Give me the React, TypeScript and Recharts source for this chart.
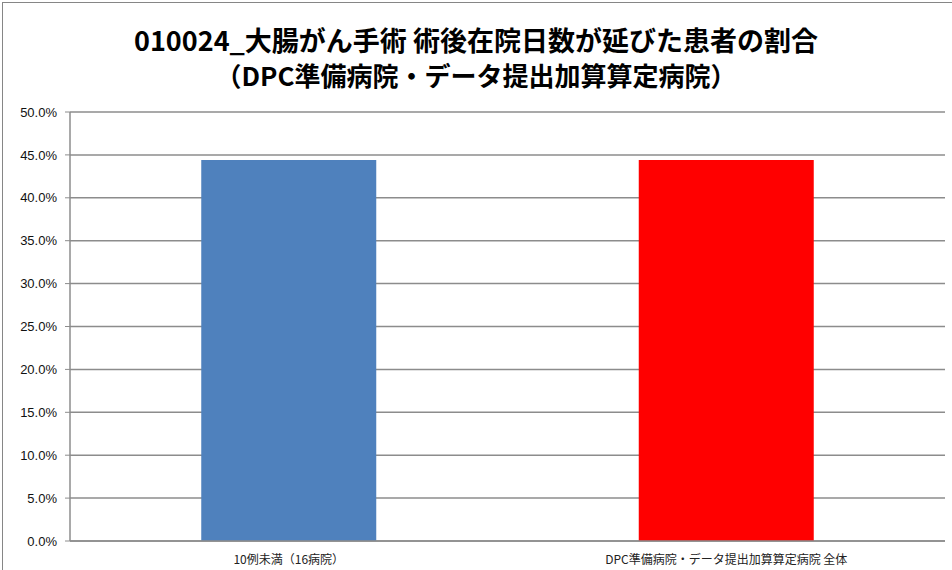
import { BarChart, Bar, XAxis, YAxis, CartesianGrid, Cell } from 'recharts'

const TITLE_LINE_1 = '010024_大腸がん手術 術後在院日数が延びた患者の割合'
const TITLE_LINE_2 = '（DPC準備病院・データ提出加算算定病院）'

const categories = ['10例未満（16病院）', 'DPC準備病院・データ提出加算算定病院 全体']
const ratios = [0.444, 0.444]
const barColors = ['#4F81BD', '#FF0000']
const yTicks = [0, 0.05, 0.1, 0.15, 0.2, 0.25, 0.3, 0.35, 0.4, 0.45, 0.5]
const edgeTicks = [0, 1, 2]

const GRID = '#8C8C8C'
const JP_FONT = '"Noto Sans CJK JP", "Noto Sans", sans-serif'

const data = categories.map((name, i) => ({ name, value: ratios[i] }))

export default function App() {
  return (
    <div
      style={{
        position: 'absolute',
        left: 0,
        top: 0,
        width: 952,
        height: 570,
        background: '#fff',
        overflow: 'hidden',
      }}
    >
      {/* frame of the chart area, only left/top edges are visible in the crop */}
      <div
        style={{
          position: 'absolute',
          left: 2,
          top: 2,
          width: 960,
          height: 580,
          borderLeft: '1px solid #868686',
          borderTop: '1px solid #868686',
        }}
      />
      <div
        style={{
          position: 'absolute',
          left: 0,
          top: 22,
          width: 952,
          textAlign: 'center',
          fontFamily: JP_FONT,
          fontWeight: 700,
          lineHeight: '35px',
          color: '#000',
        }}
      >
        <div style={{ fontSize: 27 }}>{TITLE_LINE_1}</div>
        <div style={{ fontSize: 26 }}>{TITLE_LINE_2}</div>
      </div>
      <div style={{ position: 'absolute', left: 0, top: 0 }}>
        <BarChart
          width={952}
          height={570}
          data={data}
          margin={{ top: 112, right: 7, bottom: 0, left: 0 }}
          barCategoryGap="30%"
        >
          <CartesianGrid horizontal vertical={false} stroke={GRID} strokeWidth={1.5} />
          <XAxis
            xAxisId="edge"
            type="number"
            domain={[0, 2]}
            ticks={edgeTicks}
            tick={false}
            axisLine={false}
            tickLine={{ stroke: GRID }}
            tickSize={5}
            height={0}
          />
          <XAxis
            dataKey="name"
            axisLine={{ stroke: GRID, strokeWidth: 1.5 }}
            tickLine={false}
            height={29}
            tick={{ fontSize: 12, fill: '#222', fontFamily: JP_FONT }}
            tickMargin={8}
          />
          <YAxis
            domain={[0, 0.5]}
            ticks={yTicks}
            width={70}
            axisLine={{ stroke: GRID, strokeWidth: 1.5 }}
            tickLine={{ stroke: GRID }}
            tickSize={5}
            tickMargin={8}
            tick={{ fontSize: 13, fill: '#111', fontFamily: '"Liberation Sans", sans-serif' }}
            tickFormatter={(v: number) => `${(v * 100).toFixed(1)}%`}
          />
          <Bar dataKey="value" isAnimationActive={false}>
            {data.map((d, i) => (
              <Cell key={d.name} fill={barColors[i]} />
            ))}
          </Bar>
        </BarChart>
      </div>
    </div>
  )
}
